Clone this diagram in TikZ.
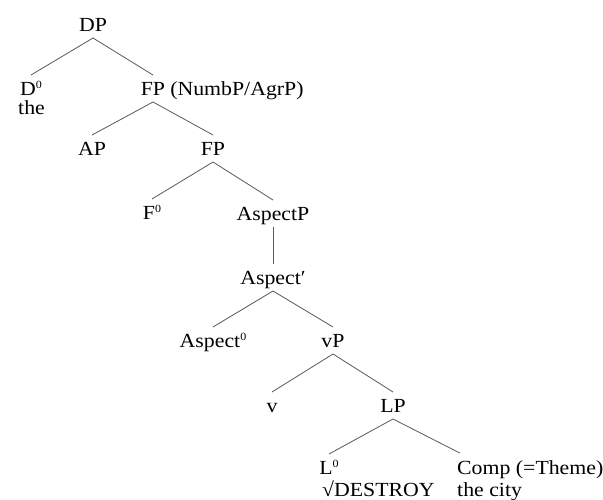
\documentclass[tikz,border=0pt]{standalone}
\usepackage{fontspec}
\setmainfont{Liberation Serif}[FakeStretch=1.09]
\usetikzlibrary{calc}
% small raised zero for head labels
\newcommand{\zerobar}{\raisebox{7pt}{\fontsize{11}{11}\selectfont 0}}
\begin{document}
\begin{tikzpicture}[x=1pt,y=-1pt,
  lbl/.style={inner sep=0pt, outer xsep=0pt, outer ysep=7pt, anchor=base,
              text height=13pt, text depth=0pt,
              font=\fontsize{20}{23}\selectfont},
  note/.style={inner sep=0pt, anchor=base west, font=\fontsize{20}{23}\selectfont},
  branch/.style={draw=black!65, line width=0.8pt}]
\useasboundingbox (0,0) rectangle (603,499);
% node labels
\node[lbl] (DP)  at (93,31)  {DP};
\node[lbl] (D0)  at (31,95)  {D\zerobar};
\node[note] (the) at (18,114) {the};
\node[lbl] (FP1) at (153,95) {FP};
\node[note] (FPn) at ([xshift=5pt]FP1.base east) {(NumbP/AgrP)};
\node[lbl] (AP)  at (92,155) {AP};
\node[lbl] (FP2) at (213,155) {FP};
\node[lbl] (F0)  at (152,219) {F\zerobar};
\node[lbl] (AspP) at (273,220) {AspectP};
\node[lbl] (AspB) at (273,284) {Aspect′};
\node[lbl] (Asp0) at (213,347) {Aspect\zerobar};
\node[lbl] (vP)  at (333,347) {vP};
\node[lbl] (v)   at (272,412) {v};
\node[lbl] (LP)  at (393,412) {LP};
\node[lbl] (L0)  at (329,474) {L\zerobar};
\node[note] (root) at (322,496) {√DESTROY};
\node[note, outer ysep=7pt] (Comp) at (457,474) {Comp (=Theme)};
\node[note] (city) at (457,496) {the city};
% branches
\draw[branch] (DP.south) -- (D0.north);
\draw[branch] (DP.south) -- (FP1.north);
\draw[branch] (FP1.south) -- (AP.north);
\draw[branch] (FP1.south) -- (FP2.north);
\draw[branch] (FP2.south) -- (F0.north);
\draw[branch] (FP2.south) -- (AspP.north);
\draw[branch] (AspP.south) -- (AspB.north);
\draw[branch] (AspB.south) -- (Asp0.north);
\draw[branch] (AspB.south) -- (vP.north);
\draw[branch] (vP.south) -- (v.north);
\draw[branch] (vP.south) -- (LP.north);
\draw[branch] (LP.south) -- (L0.north);
\draw[branch] (LP.south) -- ([xshift=3pt]Comp.north west);
\end{tikzpicture}
\end{document}
